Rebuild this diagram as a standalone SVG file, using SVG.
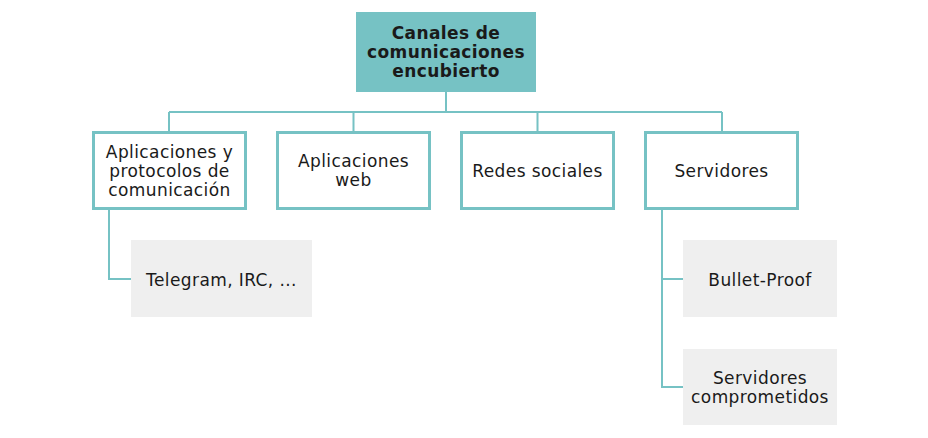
<svg xmlns="http://www.w3.org/2000/svg" width="928" height="438" viewBox="0 0 928 438">
<style>
text{font-family:"DejaVu Sans","Liberation Sans",sans-serif;font-size:17px;fill:#1a1a1a;text-anchor:middle;letter-spacing:0.4px}
.b{font-weight:bold}
.top{fill:#76c2c4}
.l1{fill:#fff;stroke:#76c2c4;stroke-width:3}
.l2{fill:#efefef}
.c{fill:none;stroke:#76c2c4;stroke-width:2}
</style>
<rect width="928" height="438" fill="#fff"/>
<g id="connectors">
<path class="c" d="M446 92V112M169 112H722M169 112V132M353.5 112V132M537.5 112V132M722 112V132"/>
<path class="c" d="M109 209V279H131"/>
<path class="c" d="M662 209V387H683M662 279H683"/>
</g>
<g id="n0">
<rect class="top" x="356" y="12" width="180" height="80"/>
<text class="b" x="446" y="39">Canales de</text>
<text class="b" x="446" y="58">comunicaciones</text>
<text class="b" x="446" y="77">encubierto</text>
</g>
<g id="n1">
<rect class="l1" x="93.5" y="132.5" width="152" height="76"/>
<text x="169.5" y="158">Aplicaciones y</text>
<text x="169.5" y="177">protocolos de</text>
<text x="169.5" y="196">comunicación</text>
</g>
<g id="n2">
<rect class="l1" x="277.5" y="132.5" width="152" height="76"/>
<text x="353.5" y="167">Aplicaciones</text>
<text x="353.5" y="186">web</text>
</g>
<g id="n3">
<rect class="l1" x="461.5" y="132.5" width="152" height="76"/>
<text x="537.5" y="177">Redes sociales</text>
</g>
<g id="n4">
<rect class="l1" x="645.5" y="132.5" width="152" height="76"/>
<text x="721.5" y="177">Servidores</text>
</g>
<g id="n5">
<rect class="l2" x="131" y="240" width="181" height="77"/>
<text x="221.5" y="286">Telegram, IRC, ...</text>
</g>
<g id="n6">
<rect class="l2" x="683" y="240" width="154" height="77"/>
<text x="760" y="286">Bullet-Proof</text>
</g>
<g id="n7">
<rect class="l2" x="683" y="349" width="154" height="76"/>
<text x="760" y="384">Servidores</text>
<text x="760" y="403">comprometidos</text>
</g>
</svg>
